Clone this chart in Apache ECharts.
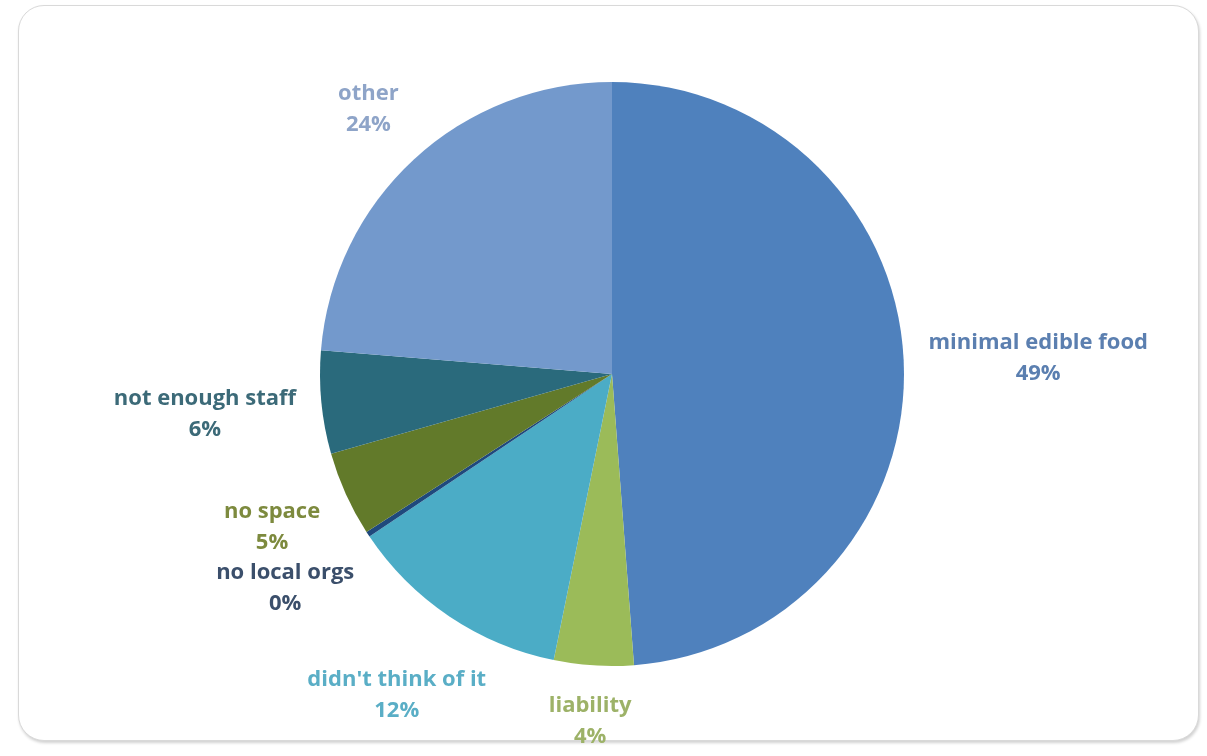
<!DOCTYPE html>
<html>
<head>
<meta charset="utf-8">
<script src="https://cdn.jsdelivr.net/npm/echarts@6/dist/echarts.min.js"></script>
<style>
  html, body { margin: 0; padding: 0; background: #ffffff; }
  #frame {
    position: absolute; left: 18px; top: 5px; width: 1179px; height: 734px;
    border: 1px solid #d9d9d9; border-radius: 26px; background: #fff;
    box-shadow: 1px 2px 3px rgba(0,0,0,0.18);
  }
  #chart { position: absolute; left: 0; top: 0; width: 1207px; height: 756px; }
</style>
</head>
<body>
<div id="frame"></div>
<div id="chart"></div>
<script>
const categories = ['minimal edible food', 'liability', "didn't think of it", 'no local orgs', 'no space', 'not enough staff', 'other'];
const values = [48.8, 4.4, 12.4, 0.3, 4.7, 5.7, 23.7];
const sliceColors = ['#4F81BD', '#9BBB59', '#4BACC6', '#1F497D', '#627A2A', '#2A6A7C', '#7399CC'];
const labelColors = ['#5B7FB0', '#9DB268', '#5AAEC6', '#3B4F6B', '#7D8A3E', '#3C6A78', '#8EA4C8'];

const CX = 612, CY = 374, R = 292, GAP = 24;
const chart = echarts.init(document.getElementById('chart'), null, { renderer: 'canvas' });
const total = values.reduce((a, b) => a + b, 0);

// mid angle (clockwise from 12 o'clock) of each slice, from the data
const midAngles = [];
{
  let cum = 0;
  values.forEach(v => { midAngles.push((cum + v / 2) / total * 2 * Math.PI); cum += v; });
}

function placeOutside(i, w, h) {
  const dx = Math.sin(midAngles[i]), dy = -Math.cos(midAngles[i]);
  let t = 0;
  for (; t < 600; t += 0.5) {
    const px = Math.abs(dx * t) - w / 2, py = Math.abs(dy * t) - h / 2;
    const d = Math.hypot(Math.max(0, px), Math.max(0, py));
    if (d >= R + GAP) break;
  }
  return [CX + dx * t, CY + dy * t];
}

chart.setOption({
  backgroundColor: 'transparent',
  animation: false,
  series: [{
    type: 'pie',
    center: [CX, CY],
    radius: R,
    startAngle: 90,
    clockwise: true,
    avoidLabelOverlap: false,
    data: categories.map((c, i) => ({
      name: c,
      value: values[i],
      itemStyle: { color: sliceColors[i] },
      label: { color: labelColors[i] }
    })),
    itemStyle: { borderWidth: 0 },
    label: {
      show: true,
      position: 'outside',
      fontFamily: 'Open Sans',
      fontWeight: 'bold',
      fontSize: 22,
      lineHeight: 31,
      formatter: p => p.name + '\n' + Math.round(p.value / total * 100) + '%'
    },
    labelLine: { show: false, length: 18, length2: 0 },
    labelLayout: function (p) {
      const r = p.labelRect;
      const pos = placeOutside(p.dataIndex, r.width, r.height);
      return { x: pos[0], y: pos[1], align: 'center', verticalAlign: 'middle' };
    }
  }]
});
</script>
</body>
</html>
